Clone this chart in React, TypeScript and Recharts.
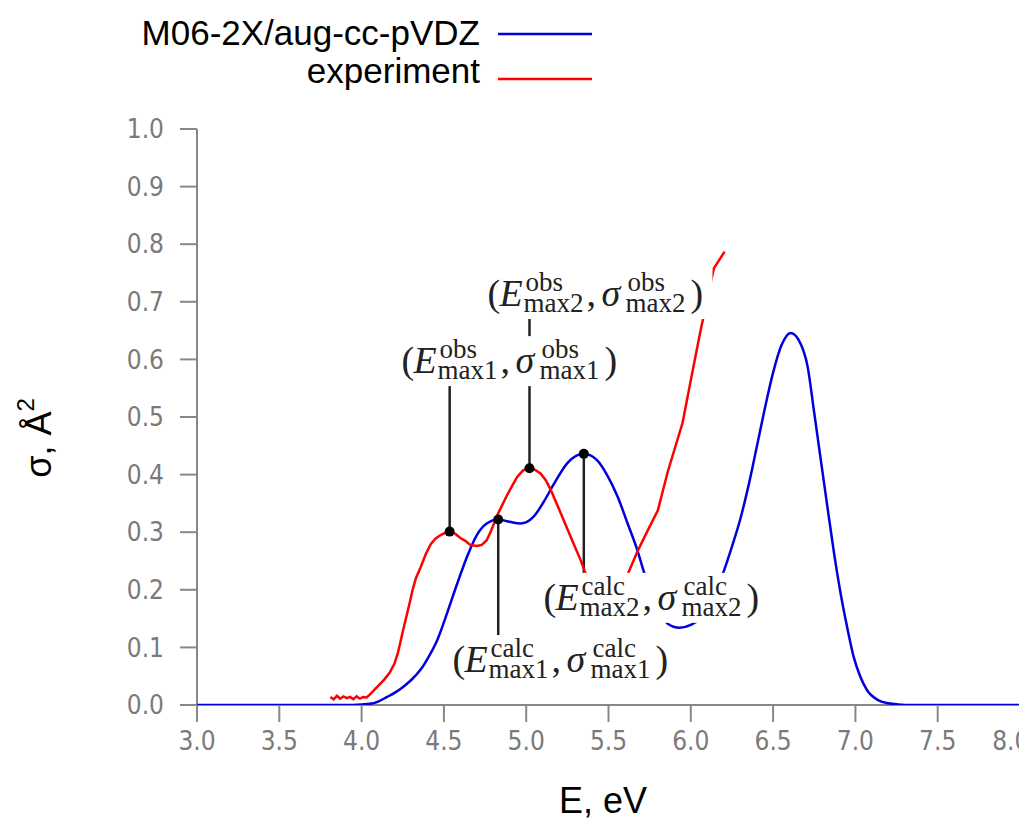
import React from 'react';
import {
  LineChart,
  Line,
  XAxis,
  YAxis,
  ReferenceLine,
  ReferenceDot,
  Customized,
} from 'recharts';

// computed spectrum (M06-2X/aug-cc-pVDZ)
const calcE = [3.0, 3.5, 3.9, 4.0, 4.05, 4.1, 4.155, 4.2, 4.25, 4.3, 4.36, 4.41, 4.46, 4.52, 4.58, 4.64, 4.7, 4.76, 4.83, 4.9, 4.965, 5.045, 5.105, 5.165, 5.25, 5.35, 5.43, 5.49, 5.555, 5.615, 5.675, 5.72, 5.78, 5.86, 5.93, 6.0, 6.1, 6.15, 6.2, 6.25, 6.3, 6.35, 6.4, 6.45, 6.5, 6.55, 6.607, 6.655, 6.71, 6.75, 6.79, 6.83, 6.87, 6.91, 6.95, 6.99, 7.03, 7.07, 7.135, 7.2, 7.26, 7.35, 8.0];
const calcS = [0, 0, 0, 0.001, 0.002, 0.006, 0.014, 0.021, 0.031, 0.043, 0.062, 0.085, 0.113, 0.16, 0.21, 0.257, 0.295, 0.315, 0.322, 0.318, 0.315, 0.327, 0.352, 0.382, 0.42, 0.436, 0.425, 0.4, 0.362, 0.316, 0.269, 0.227, 0.185, 0.141, 0.134, 0.139, 0.165, 0.195, 0.232, 0.275, 0.322, 0.38, 0.447, 0.515, 0.577, 0.624, 0.646, 0.634, 0.587, 0.507, 0.425, 0.344, 0.264, 0.194, 0.135, 0.083, 0.049, 0.026, 0.009, 0.003, 0.001, 0, 0];

// experiment
const obsE = [3.81, 3.83, 3.85, 3.87, 3.89, 3.91, 3.93, 3.95, 3.97, 3.99, 4.01, 4.03, 4.05, 4.08, 4.11, 4.14, 4.17, 4.2, 4.22, 4.235, 4.25, 4.265, 4.29, 4.31, 4.33, 4.36, 4.39, 4.42, 4.45, 4.48, 4.51, 4.535, 4.57, 4.6, 4.63, 4.66, 4.7, 4.73, 4.76, 4.78, 4.83, 4.885, 4.945, 4.98, 5.0, 5.02, 5.05, 5.087, 5.12, 5.15, 5.21, 5.27, 5.33, 5.36, 5.42, 5.5, 5.57, 5.62, 5.675, 5.74, 5.8, 5.86, 5.95, 6.0, 6.06, 6.14, 6.205];
const obsS = [0.014, 0.01, 0.016, 0.011, 0.015, 0.012, 0.014, 0.01, 0.015, 0.011, 0.014, 0.013, 0.018, 0.027, 0.036, 0.045, 0.056, 0.072, 0.09, 0.108, 0.127, 0.145, 0.175, 0.2, 0.22, 0.24, 0.262, 0.279, 0.289, 0.295, 0.299, 0.301, 0.297, 0.29, 0.285, 0.278, 0.276, 0.278, 0.286, 0.298, 0.333, 0.365, 0.396, 0.407, 0.41, 0.411, 0.409, 0.402, 0.39, 0.373, 0.333, 0.292, 0.252, 0.229, 0.2, 0.19, 0.2, 0.229, 0.266, 0.304, 0.338, 0.405, 0.49, 0.564, 0.651, 0.758, 0.787];

const xTicks = [3.0, 3.5, 4.0, 4.5, 5.0, 5.5, 6.0, 6.5, 7.0, 7.5, 8.0];
const yTicks = [0, 0.1, 0.2, 0.3, 0.4, 0.5, 0.6, 0.7, 0.8, 0.9, 1.0];

// marked maxima and where their labels sit (data units)
const peaks = [
  { kind: 'obs', n: '1', E: 4.535, s: 0.301, labelE: 4.904, labelS: 0.597 },
  { kind: 'obs', n: '2', E: 5.02, s: 0.411, labelE: 5.427, labelS: 0.7135 },
  { kind: 'calc', n: '1', E: 4.83, s: 0.322, labelE: 5.214, labelS: 0.078 },
  { kind: 'calc', n: '2', E: 5.35, s: 0.436, labelE: 5.768, labelS: 0.186 },
];

const calcData = calcE.map((E, i) => ({ E, s: calcS[i] }));
const obsData = obsE.map((E, i) => ({ E, s: obsS[i] }));

const serif = "'Liberation Serif', 'DejaVu Serif', serif";
const sans = "'Liberation Sans', Arial, sans-serif";
const narrow = "'Liberation Sans Narrow', 'DejaVu Sans Condensed', 'Liberation Sans', sans-serif";

const MathLabel = ({ cx, cy, sup, sub }: any) => {
  const L = cx - 109;
  const B = cy + 12;
  return (
    <g>
      <rect x={cx - 116} y={cy - 25} width={232} height={50} fill="#fff" />
      <text fontFamily={serif} fontSize={38} fill="#222">
        <tspan x={L} y={B}>(</tspan>
        <tspan x={L + 12} y={B} fontStyle="italic">E</tspan>
        <tspan x={L + 99} y={B}>,</tspan>
        <tspan x={L + 114} y={B} fontStyle="italic">σ</tspan>
        <tspan x={L + 203} y={B}>)</tspan>
      </text>
      <text fontFamily={serif} fontSize={27} fill="#222">
        <tspan x={L + 38} y={B - 15}>{sup}</tspan>
        <tspan x={L + 36} y={B + 6}>{sub}</tspan>
        <tspan x={L + 140} y={B - 15}>{sup}</tspan>
        <tspan x={L + 138} y={B + 6}>{sub}</tspan>
      </text>
    </g>
  );
};

const Decor = () => (
  <g>
    <text x={472} y={37} textAnchor="end" fontFamily={sans} fontSize={35} fill="#000">
      M06-2X/aug-cc-pVDZ
    </text>
    <line x1={490} x2={584} y1={26} y2={26} stroke="#0000dd" strokeWidth={2.5} />
    <text x={472} y={75} textAnchor="end" fontFamily={sans} fontSize={35} fill="#000">
      experiment
    </text>
    <line x1={490} x2={584} y1={71} y2={71} stroke="#ff0000" strokeWidth={2.5} />
    <text x={595} y={805} textAnchor="middle" fontFamily={sans} fontSize={36} fill="#000">
      E, eV
    </text>
    <text
      x={30}
      y={430}
      transform="rotate(-90 30 430)"
      textAnchor="middle"
      dominantBaseline="central"
      fontFamily={sans}
      fontSize={36}
      fill="#000"
    >
      σ, Å<tspan fontSize={24} dy={-13}>2</tspan>
    </text>
  </g>
);

export default function App() {
  return (
    <LineChart
      width={1019}
      height={815}
      margin={{ top: 121, right: 7, left: 129, bottom: 58 }}
    >
      <XAxis
        type="number"
        dataKey="E"
        domain={[3, 8]}
        ticks={xTicks}
        tickFormatter={(v: number) => v.toFixed(1)}
        allowDataOverflow
        height={60}
        tickSize={17}
        tickMargin={10}
        stroke="#888"
        strokeWidth={2}
        tick={{ fill: '#7a7a7a', fontSize: 26, fontFamily: narrow }}
      />
      <YAxis
        type="number"
        dataKey="s"
        domain={[0, 1]}
        ticks={yTicks}
        tickFormatter={(v: number) => v.toFixed(1)}
        allowDataOverflow
        width={60}
        tickSize={17}
        tickMargin={16}
        stroke="#888"
        strokeWidth={2}
        tick={{ fill: '#7a7a7a', fontSize: 26, fontFamily: narrow }}
      />
      <ReferenceLine
        segment={[
          { x: 3, y: 0 },
          { x: 3, y: -0.013 },
        ]}
        ifOverflow="visible"
        stroke="#888"
        strokeWidth={2}
      />
      <Line
        data={calcData}
        dataKey="s"
        type="monotone"
        stroke="#0000dd"
        strokeWidth={2.5}
        dot={false}
        activeDot={false}
        isAnimationActive={false}
        zIndex={600}
      />
      <Line
        data={obsData}
        dataKey="s"
        type="linear"
        stroke="#ff0000"
        strokeWidth={2.5}
        dot={false}
        activeDot={false}
        isAnimationActive={false}
        zIndex={600}
      />
      {peaks.map((p) => (
        <ReferenceLine
          key={'l' + p.kind + p.n}
          segment={[
            { x: p.E, y: p.s },
            { x: p.E, y: p.labelS },
          ]}
          stroke="#222"
          strokeWidth={2.5}
        />
      ))}
      {peaks.map((p) => (
        <ReferenceDot
          key={'t' + p.kind + p.n}
          x={p.labelE}
          y={p.labelS}
          r={1}
          zIndex={700}
          shape={(sp: any) => (
            <MathLabel cx={sp.cx} cy={sp.cy} sup={p.kind} sub={'max' + p.n} />
          )}
        />
      ))}
      {peaks.map((p) => (
        <ReferenceDot
          key={'d' + p.kind + p.n}
          x={p.E}
          y={p.s}
          r={5}
          fill="#000"
          stroke="none"
          zIndex={800}
        />
      ))}
      <Customized component={Decor} />
    </LineChart>
  );
}
